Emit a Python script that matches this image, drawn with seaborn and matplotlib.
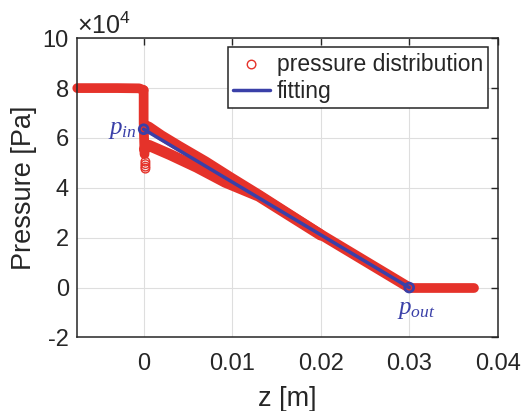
import matplotlib
matplotlib.use("Agg")
import matplotlib.pyplot as plt
from matplotlib.ticker import ScalarFormatter
import seaborn as sns

# ---- data (z in m, pressure in Pa) ----
# inlet plateau
inlet_z = [-0.0075, -0.0030, -0.0005, 0.0000]
inlet_p = [80000, 80000, 79900, 79200]
# sharp drop at the channel entrance
drop_z = [0.0000, 0.0000, 0.0001]
drop_p = [79200, 66000, 53500]
# upper branch of the channel pressure
upper_z = [0.0001, 0.0006, 0.0020, 0.0040, 0.0070, 0.0098, 0.0130, 0.0200, 0.0300]
upper_p = [65200, 64400, 61000, 56700, 50500, 44200, 37200, 21300, 0]
# lower branch, joining the upper one downstream
lower_z = [0.0001, 0.0006, 0.0030, 0.0060, 0.0092, 0.0130, 0.0200]
lower_p = [55500, 57000, 53300, 48300, 42300, 36700, 21100]
# outlet plateau
outlet_z = [0.0300, 0.0340, 0.0373]
outlet_p = [0, 0, 0]
# isolated samples below the entrance drop
tail_z = [0.0002, 0.0002, 0.0002, 0.0002]
tail_p = [50500, 49500, 48500, 47700]

# linear fit between inlet and outlet
fit_z = [0.0, 0.030]
fit_p = [63500, 0]
fit_names = ["$p_{in}$", "$p_{out}$"]

xticks = [0, 0.01, 0.02, 0.03, 0.04]
xtick_labels = ["0", "0.01", "0.02", "0.03", "0.04"]
yticks = [-20000, 0, 20000, 40000, 60000, 80000, 100000]

RED = "#E5322A"
BLUE = "#3A40A8"
INK = "#262626"


class PlainScaled(ScalarFormatter):
    """Scaled tick values as plain text, with a math-text offset label."""

    def __call__(self, x, pos=None):
        return f"{x / 10 ** self.orderOfMagnitude:g}"


sns.set_theme(style="white")
plt.rcParams["font.family"] = ["Liberation Sans", "DejaVu Sans"]
plt.rcParams["axes.unicode_minus"] = False
plt.rcParams["mathtext.fontset"] = "custom"
plt.rcParams["mathtext.rm"] = "Liberation Sans"
plt.rcParams["mathtext.it"] = "Liberation Serif:italic"
plt.rcParams["mathtext.bf"] = "Liberation Sans:bold"

fig = plt.figure(figsize=(5.22, 4.11), dpi=100)
ax = fig.add_axes([0.148, 0.179, 0.8055, 0.728])

ax.grid(True, color="#DEDEDE", lw=0.8)
ax.set_axisbelow(True)

band_kw = dict(color=RED, sort=False, estimator=None, legend=False,
               solid_capstyle="round", solid_joinstyle="round", zorder=2)
sns.lineplot(x=inlet_z, y=inlet_p, ax=ax, lw=7, clip_on=False, **band_kw)
sns.lineplot(x=drop_z, y=drop_p, ax=ax, lw=7, **band_kw)
sns.lineplot(x=upper_z, y=upper_p, ax=ax, lw=7.5, **band_kw)
sns.lineplot(x=lower_z, y=lower_p, ax=ax, lw=8, **band_kw)
sns.lineplot(x=outlet_z, y=outlet_p, ax=ax, lw=7, **band_kw)

sns.scatterplot(x=tail_z, y=tail_p, ax=ax, marker="o", s=38,
                facecolor="none", edgecolor=RED, linewidth=1.0,
                label="pressure distribution", zorder=3)

sns.lineplot(x=fit_z, y=fit_p, ax=ax, color=BLUE, lw=2.5, sort=False,
             estimator=None, label="fitting", zorder=4)
sns.scatterplot(x=fit_z, y=fit_p, ax=ax, marker="o", s=40,
                facecolor="none", edgecolor=BLUE, linewidth=2.0,
                legend=False, zorder=5)

ax.annotate(fit_names[0], (fit_z[0], fit_p[0]), xytext=(-5, 0),
            textcoords="offset points", ha="right", va="center",
            fontsize=18, color=BLUE)
ax.annotate(fit_names[1], (fit_z[1], fit_p[1]), xytext=(5, -7),
            textcoords="offset points", ha="center", va="top",
            fontsize=18, color=BLUE)

ax.set_xlim(-0.0075, 0.04)
ax.set_ylim(-20000, 100000)
ax.set_xticks(xticks, labels=xtick_labels)
ax.set_yticks(yticks)
fmt = PlainScaled(useMathText=True)
fmt.set_powerlimits((4, 4))
ax.yaxis.set_major_formatter(fmt)

ax.tick_params(direction="in", top=True, right=True, length=5, width=1,
               color=INK, labelsize=17, labelcolor=INK)
ax.tick_params(axis="x", pad=11)
ax.tick_params(axis="y", pad=6)
ax.yaxis.get_offset_text().set_fontsize(18)
ax.yaxis.get_offset_text().set_color(INK)
for sp in ax.spines.values():
    sp.set_color(INK)
    sp.set_linewidth(1.1)

ax.set_xlabel("z [m]", fontsize=19.5, color=INK, labelpad=8)
ax.set_ylabel("Pressure [Pa]", fontsize=19.5, color=INK, labelpad=4)

handles, labels = ax.get_legend_handles_labels()
order = [labels.index("pressure distribution"), labels.index("fitting")]
leg = ax.legend([handles[i] for i in order], [labels[i] for i in order],
                loc="upper right", bbox_to_anchor=(0.977, 0.969),
                borderaxespad=0, fontsize=16.5, frameon=True, fancybox=False,
                edgecolor=INK, framealpha=1, handlelength=1.6,
                handletextpad=0.3, labelspacing=0.2, borderpad=0.22)
leg.get_frame().set_linewidth(1.1)

fig.savefig("out.png", dpi=100)
